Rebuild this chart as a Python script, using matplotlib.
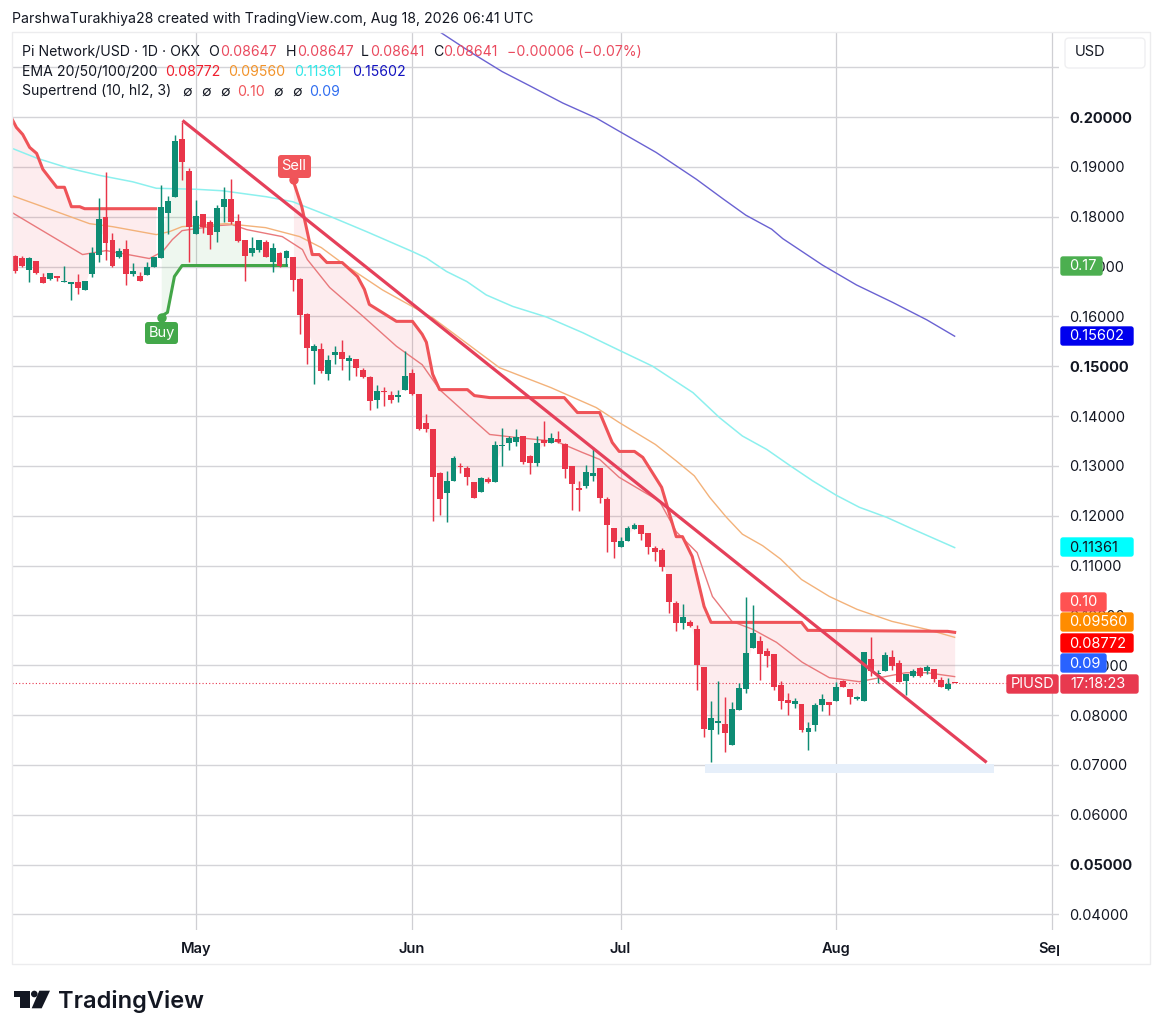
import numpy as np
import matplotlib
matplotlib.use('Agg')
import matplotlib.pyplot as plt
from matplotlib.patches import Rectangle, FancyBboxPatch, Polygon, Circle

plt.rcParams['font.family'] = ['Inter', 'DejaVu Sans']

# days counted from May 1
days = np.arange(-26, 110)
opens = [.1722,.1717,.1693,.1711,.1678,.1675,.1680,.1669,.1665,.1669,.1653,.1685,.1723,.1799,.1753,.1719,.1735,.1684,.1680,.1682,.1699,.1718,.1807,.1839,.1955,.1891,
         .1765,.1806,.1789,.1770,.1819,.1835,.1791,.1753,.1728,.1734,.1750,.1709,.1728,.1718,.1719,.1675,.1605,.1530,.1535,.1485,.1523,.1529,.1511,.1515,.1493,.1478,.1432,.1451,.1443,.1439,.1452,.1486,
         .1445,.1387,.1375,.1285,.1245,.1269,.1300,.1295,.1267,.1247,.1273,.1268,.1339,.1345,.1348,.1360,.1320,.1305,.1352,.1346,.1353,.1343,.1299,.1255,.1259,.1279,.1295,.1233,.1176,.1138,
         .1149,.1173,.1181,.1165,.1136,.1131,.1083,.1024,.0984,.0987,.0973,.0897,.0770,.0784,.0783,.0739,.0811,.0853,.0935,.0948,.0928,.0923,.0861,.0831,.0823,.0823,.0766,.0781,.0821,.0827,
         .0829,.0868,.0853,.0832,.0829,.0913,.0882,.0888,.0916,.0905,.0868,.0879,.0895,.0888,.0893,.0871,.0853,.08647]
highs = [.1723,.1722,.1720,.1712,.1688,.1688,.1680,.1702,.1668,.1685,.1671,.1740,.1837,.1889,.1767,.1737,.1753,.1708,.1689,.1709,.1719,.1863,.1841,.1963,.1990,.1897,
         .1833,.1806,.1793,.1823,.1859,.1875,.1805,.1753,.1760,.1753,.1753,.1747,.1729,.1733,.1720,.1677,.1607,.1545,.1547,.1523,.1541,.1552,.1523,.1515,.1496,.1480,.1463,.1459,.1450,.1452,.1530,.1495,
         .1445,.1405,.1375,.1288,.1289,.1320,.1305,.1300,.1268,.1277,.1277,.1350,.1377,.1360,.1375,.1360,.1322,.1360,.1391,.1365,.1370,.1345,.1300,.1270,.1301,.1337,.1296,.1238,.1176,.1157,
         .1179,.1186,.1181,.1165,.1139,.1135,.1083,.1028,.1023,.0991,.0980,.0897,.0828,.0869,.0837,.0827,.0865,.1037,.1020,.0958,.0935,.0923,.0868,.0845,.0835,.0823,.0786,.0825,.0843,.0827,
         .0866,.0870,.0853,.0838,.0926,.0956,.0891,.0926,.0931,.0910,.0883,.0893,.0897,.0901,.0893,.0877,.0875,.08647]
lows = [.1688,.1700,.1669,.1685,.1666,.1672,.1671,.1669,.1633,.1645,.1653,.1679,.1709,.1713,.1700,.1717,.1662,.1680,.1670,.1682,.1699,.1718,.1765,.1839,.1873,.1710,
        .1765,.1768,.1735,.1750,.1790,.1785,.1749,.1671,.1722,.1729,.1719,.1690,.1700,.1701,.1651,.1565,.1505,.1465,.1487,.1473,.1505,.1492,.1473,.1480,.1477,.1413,.1417,.1420,.1427,.1429,.1452,.1443,
        .1372,.1367,.1189,.1201,.1187,.1269,.1285,.1261,.1235,.1247,.1265,.1268,.1300,.1332,.1339,.1303,.1283,.1300,.1339,.1345,.1345,.1275,.1212,.1210,.1255,.1270,.1225,.1128,.1115,.1138,
        .1149,.1173,.1151,.1123,.1110,.1090,.1005,.0968,.0973,.0977,.0851,.0757,.0706,.0763,.0725,.0739,.0811,.0845,.0935,.0871,.0897,.0851,.0813,.0801,.0815,.0766,.0730,.0768,.0808,.0801,
        .0829,.0857,.0823,.0831,.0829,.0878,.0865,.0888,.0891,.0867,.0841,.0877,.0877,.0883,.0866,.0856,.0851,.08641]
closes = [.1691,.1701,.1717,.1686,.1667,.1686,.1677,.1671,.1668,.1656,.1671,.1727,.1795,.1747,.1701,.1732,.1685,.1691,.1670,.1700,.1719,.1819,.1831,.1951,.1909,.1780,
          .1801,.1779,.1763,.1817,.1835,.1789,.1752,.1722,.1737,.1753,.1720,.1738,.1701,.1732,.1673,.1602,.1537,.1540,.1491,.1513,.1529,.1515,.1517,.1496,.1478,.1431,.1450,.1448,.1433,.1443,.1481,.1445,
          .1373,.1375,.1278,.1233,.1270,.1315,.1297,.1278,.1235,.1276,.1267,.1342,.1341,.1355,.1357,.1308,.1305,.1345,.1345,.1355,.1347,.1293,.1263,.1252,.1288,.1285,.1236,.1181,.1148,.1150,
          .1175,.1181,.1163,.1138,.1127,.1098,.1026,.0984,.0997,.0978,.0900,.0773,.0795,.0789,.0765,.0813,.0855,.0925,.0965,.0923,.0918,.0856,.0828,.0825,.0828,.0771,.0775,.0821,.0833,.0820,
          .0857,.0857,.0836,.0836,.0926,.0888,.0885,.0920,.0899,.0867,.0883,.0889,.0879,.0896,.0873,.0857,.0863,.08641]

ema20_days = [-26.4,-24,-16.3,-12.9,-9,-6.7,-4.8,-3.4,-2,3,5.2,7.3,12.4,15.3,16,19.2,24,28.8,32.5,35,39.3,42.2,46,51.8,55.5,58,60.8,66.6,69,72,74.2,77,80,83.4,87.1,91,95.3,98.2,102,105,109]
ema20 = [.1808,.1788,.1724,.1732,.1722,.1716,.1730,.1754,.1772,.1782,.1784,.1774,.1760,.1734,.1714,.1658,.1600,.1540,.1503,.1453,.1399,.1363,.1357,.1349,.1327,.1313,.1277,.1229,.1168,.1126,.1038,.0988,.0972,.0946,.0906,.0875,.0867,.0875,.0885,.0885,.08772]
ema50_days = [-26.4,-22,-15.3,-12,-5.7,-3.8,-2,4.4,10,14.9,18,21,26.8,34,43.6,51,57.5,60.8,66,69,71.6,73.8,76.2,78.5,81.4,84,87,91,95,100,105,109]
ema50 = [.1842,.1820,.1786,.1780,.1764,.1770,.1780,.1786,.1778,.1760,.1738,.1707,.1653,.1597,.1497,.1457,.1417,.1387,.1343,.1310,.1280,.1237,.1197,.1163,.1140,.1113,.1072,.1038,.1012,.0988,.0972,.09560]
ema100_days = [-26.4,-22.8,-18.2,-13.9,-9.1,-5.7,0,3.8,10.1,13.9,19.2,24.5,31.1,33.1,36,38.9,41.7,45.5,50.3,55.6,60.8,65.6,71.4,75.2,78.5,82,85.3,88.6,92,95.3,99.2,103,109]
ema100 = [.1937,.1917,.1897,.1883,.1870,.1857,.1855,.1852,.1840,.1830,.1801,.1770,.1730,.1717,.1690,.1670,.1643,.1620,.1599,.1567,.1532,.1500,.1447,.1397,.1360,.1333,.1301,.1270,.1241,.1217,.1197,.1173,.11361]
ema200_days = [35,39.8,44,47.9,52.7,57.5,61.1,66.1,71.9,75.7,79,82.7,84.3,90,94.9,100.1,105,109]
ema200 = [.2171,.2127,.2091,.2063,.2028,.1998,.1969,.1929,.1875,.1836,.1803,.1775,.1756,.1703,.1663,.1628,.1593,.15602]

st_down1_days = [-26.4,-25.8,-24.9,-23.9,-22.9,-22,-20,-18.9,-17.9,-16.7,-16,-5.8]
st_down1 = [.1995,.1979,.1965,.1939,.1927,.1895,.1859,.1859,.1820,.1820,.1816,.1816]
st_up_days = [-5,-4.1,-3.1,-2,13]
st_up = [.1600,.1608,.1680,.1702,.1702]
st_down2_days = [14,15.2,16.7,17.7,18.8,21,23.2,24.2,24.9,28.8,31.1,32.5,33.1,34,35,39,40,42.2,52.9,54.8,58,59.8,60.8,63,64.2,66.9,69,69.9,71.3,73,74,87,87.9,108,109]
st_down2 = [.1871,.1820,.1724,.1724,.1708,.1708,.1680,.1654,.1624,.1590,.1590,.1564,.1548,.1484,.1453,.1453,.1441,.1437,.1437,.1407,.1407,.1347,.1329,.1329,.1317,.1257,.1158,.1158,.1118,.1018,.0986,.0986,.0970,.0968,.0966]

trend_days = [-1.94, 113.6]
trend_vals = [.1993, .0705]
zone_days = [73.2, 114.7]
zone_vals = [.0683, .0701]
last_price = .08641

month_ticks = [0, 31, 61, 92, 123]
month_labels = ['May', 'Jun', 'Jul', 'Aug', 'Sep']
price_ticks = [.04,.05,.06,.07,.08,.09,.10,.11,.12,.13,.14,.15,.16,.17,.18,.19,.20,.21]

W, H = 1162, 1036
fig = plt.figure(figsize=(W/100, H/100), dpi=100, facecolor='white')

# plot pane, 6.96 px per day, 4984 px per 1.0 of price
ax = fig.add_axes([11.5/W, 1-929.5/H, (1059-12)/W, (930-32)/H])
ax.set_xlim((12-196.5)/6.96, (1059-196.5)/6.96)
ax.set_ylim(.2-(930-117.5)/4984, .2+(117.5-32)/4984)
for s in ax.spines.values():
    s.set_visible(False)

ax.set_xticks(month_ticks)
ax.set_xticklabels(month_labels, fontsize=10.5, fontweight='semibold', color='#131722')
ax.set_yticks(price_ticks)
ax.set_yticklabels(['' if p > .205 else '%.5f' % p for p in price_ticks], fontsize=10.5, color='#131722')
ax.yaxis.tick_right()
ax.tick_params(axis='both', length=0)
ax.tick_params(axis='y', pad=8)
ax.tick_params(axis='x', pad=9)
for lab, p in zip(ax.get_yticklabels(), price_ticks):
    if p in (.05, .15, .20):
        lab.set_fontweight('bold')
ax.grid(True, axis='y', color='#d4d4d8', lw=1.0)
ax.grid(True, axis='x', color='#cfcfd3', lw=0.9)
ax.set_axisbelow(True)

# supertrend fill goes from the line to the middle of the candle bodies
mid = (np.array(opens) + np.array(closes)) / 2
for xs, ys, col in [(st_down1_days, st_down1, '#f23645'), (st_up_days, st_up, '#4caf50'), (st_down2_days, st_down2, '#f23645')]:
    dd = np.linspace(xs[0], xs[-1], 300)
    ax.fill_between(dd, np.interp(dd, xs, ys), np.interp(dd, days, mid), color=col, alpha=0.09, lw=0, zorder=1)
    ax.plot(xs, ys, color='#ef5358' if col == '#f23645' else '#43a648', lw=2.2, zorder=3, solid_joinstyle='round')

ax.add_patch(Rectangle((zone_days[0], zone_vals[0]), zone_days[1]-zone_days[0], zone_vals[1]-zone_vals[0], color='#e6effa', lw=0, zorder=1))

ax.plot(ema20_days, ema20, color='#e9797c', lw=1.0, zorder=2)
ax.plot(ema50_days, ema50, color='#f3b27a', lw=1.0, zorder=2)
ax.plot(ema100_days, ema100, color='#8cf0ee', lw=1.1, zorder=2)
ax.plot(ema200_days, ema200, color='#6a62d2', lw=1.0, zorder=2)

ax.axhline(last_price, color='#e8384f', lw=0.8, ls=(0, (1, 2)), zorder=2, xmax=(1006-12)/(1059-12))

# candles
cols = ['#0e8c74' if c >= o else '#e93549' for o, c in zip(opens, closes)]
ax.vlines(days, lows, highs, colors=cols, lw=1.05, zorder=4)
bot = np.minimum(opens, closes)
hgt = np.maximum(np.abs(np.array(closes)-np.array(opens)), 0.0002)
ax.bar(days, hgt, bottom=bot, width=0.85, color=cols, lw=0, zorder=4)

ax.plot(trend_days, trend_vals, color='#e5405a', lw=2.3, zorder=5, solid_capstyle='butt')

# overlay in pixel coordinates for everything around the plot
ov = fig.add_axes([0, 0, 1, 1], facecolor='none')
ov.set_xlim(0, W)
ov.set_ylim(H, 0)
ov.axis('off')

ov.add_patch(Rectangle((12, 32), 1138, 932, fill=False, ec='#ececee', lw=1))
ov.add_patch(Rectangle((1059, 935), 14, 26, color='white', lw=0, zorder=3))

def box(x0, x1, y0, y1, col, txt, tcol='white', tx=None):
    ov.add_patch(FancyBboxPatch((x0+1, y0+1), x1-x0-2, y1-y0-2, boxstyle='round,pad=0,rounding_size=2', fc=col, ec=col, lw=1, zorder=4))
    ov.text(x0+9 if tx is None else tx, (y0+y1)/2+0.5, txt, color=tcol, fontsize=10.5, va='center', ha='left', zorder=5)

box(1060, 1103, 256, 276, '#4caf50', '0.17')
box(1060, 1134, 326, 346, '#0000ee', '0.15602')
box(1060, 1134, 537, 557, '#00ffff', '0.11361', tcol='#131722')
box(1060, 1107, 592, 612, '#ff5252', '0.10')
box(1060, 1134, 612, 632, '#ff8c00', '0.09560')
box(1060, 1134, 633, 653, '#ff0000', '0.08772')
box(1060, 1107, 653, 673, '#2962ff', '0.09')
box(1006, 1059, 674, 694, '#e8394f', 'PIUSD', tx=1011)
box(1060, 1139, 674, 694, '#e8394f', '17:18:23', tx=1070)

# Buy / Sell flags
ov.add_patch(Circle((162, 318), 4, color='#43a84a', zorder=6))
ov.add_patch(FancyBboxPatch((145, 322), 33, 22, boxstyle='round,pad=0,rounding_size=3', fc='#43a84a', ec='none', zorder=6))
ov.text(161.5, 333.5, 'Buy', color='white', fontsize=10.5, ha='center', va='center', zorder=7)
ov.add_patch(Circle((294, 180), 4, color='#ef5358', zorder=6))
ov.add_patch(FancyBboxPatch((278, 155), 33, 23, boxstyle='round,pad=0,rounding_size=3', fc='#f0555a', ec='none', zorder=6))
ov.text(294, 166.5, 'Sell', color='white', fontsize=10.5, ha='center', va='center', zorder=7)

# USD button
ov.add_patch(FancyBboxPatch((1065, 38), 80, 30, boxstyle='round,pad=0,rounding_size=4', fc='white', ec='#efeff1', lw=1))
ov.text(1075, 52.5, 'USD', fontsize=10.5, color='#131722', va='center')

# header and legend
dark = '#131722'
red = '#ea4a5e'
ov.text(12, 18.5, 'ParshwaTurakhiya28 created with TradingView.com, Aug 18, 2026 06:41 UTC', fontsize=10.15, color=dark, va='center')
legend = [
    (22, 51.5, 'Pi Network/USD · 1D · OKX', dark), (208, 51.5, 'O', dark), (220, 51.5, '0.08647', red),
    (286, 51.5, 'H', dark), (297, 51.5, '0.08647', red), (361, 51.5, 'L', dark), (370, 51.5, '0.08641', red),
    (433, 51.5, 'C', dark), (443, 51.5, '0.08641', red), (507, 51.5, '−0.00006 (−0.07%)', red),
    (22, 71.5, 'EMA 20/50/100/200', dark), (165, 71.5, '0.08772', '#f01f2e'), (228, 71.5, '0.09560', '#f2932a'),
    (294, 71.5, '0.11361', '#2fe8e8'), (352, 71.5, '0.15602', '#1212c0'),
    (22, 91.5, 'Supertrend (10, hl2, 3)', dark), (182, 91.5, '∅', dark), (201, 91.5, '∅', dark), (220, 91.5, '∅', dark),
    (237, 91.5, '0.10', '#f0555a'), (273, 91.5, '∅', dark), (292, 91.5, '∅', dark), (309, 91.5, '0.09', '#2f6df0'),
]
for x, y, s, c in legend:
    ov.text(x, y, s, fontsize=10.15, color=c, va='center', zorder=6)

# TradingView logo
ov.add_patch(Polygon([(14.3, 990.7), (30, 990.7), (30, 1008.3), (20, 1008.3), (20, 997.3), (14.3, 997.3)], color='#131722', lw=0))
ov.add_patch(Circle((34.3, 994), 3.3, color='#131722', lw=0))
ov.add_patch(Polygon([(39.3, 990.7), (50, 990.7), (41.7, 1008.3), (31.7, 1008.3)], color='#131722', lw=0))
ov.text(58, 1008, 'TradingView', fontsize=17, fontweight='semibold', color='#131722', va='baseline')

fig.savefig('out.png', dpi=100)
